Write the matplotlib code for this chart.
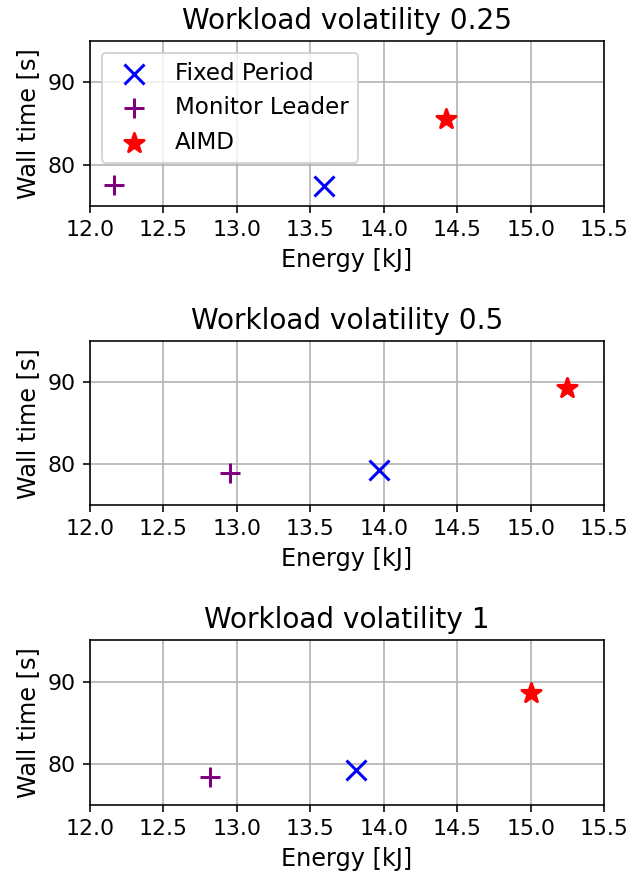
import matplotlib.pyplot as plt

volatilities = ["0.25", "0.5", "1"]
strategies = ["Fixed Period", "Monitor Leader", "AIMD"]
energy = {
    "Fixed Period": [13.59, 13.97, 13.81],
    "Monitor Leader": [12.16, 12.95, 12.82],
    "AIMD": [14.42, 15.25, 15.0],
}
walltime = {
    "Fixed Period": [77.4, 79.3, 79.2],
    "Monitor Leader": [77.5, 78.9, 78.4],
    "AIMD": [85.5, 89.3, 88.6],
}
markers = {"Fixed Period": "x", "Monitor Leader": "+", "AIMD": "*"}
colors = {"Fixed Period": "blue", "Monitor Leader": "purple", "AIMD": "red"}

dpi = 144
fig, axes = plt.subplots(3, 1, figsize=(634 / dpi, 875 / dpi), dpi=dpi)
for i, ax in enumerate(axes):
    for s in strategies:
        ax.scatter(energy[s][i], walltime[s][i], marker=markers[s], color=colors[s],
                   s=100, linewidths=1.5, label=s, zorder=3)
    ax.set_title(f"Workload volatility {volatilities[i]}", fontsize=14)
    ax.set_xlabel("Energy [kJ]", fontsize=12)
    ax.set_ylabel("Wall time [s]", fontsize=12)
    ax.set_xlim(12.0, 15.5)
    ax.set_ylim(75, 95)
    ax.set_yticks([80, 90])
    ax.tick_params(labelsize=11)
    ax.grid(True)
    if i == 0:
        ax.legend(loc="upper left", fontsize=11.5)

fig.subplots_adjust(left=0.142, right=0.953, top=0.953, bottom=0.08, hspace=0.82)
plt.savefig("out.png", dpi=dpi)
